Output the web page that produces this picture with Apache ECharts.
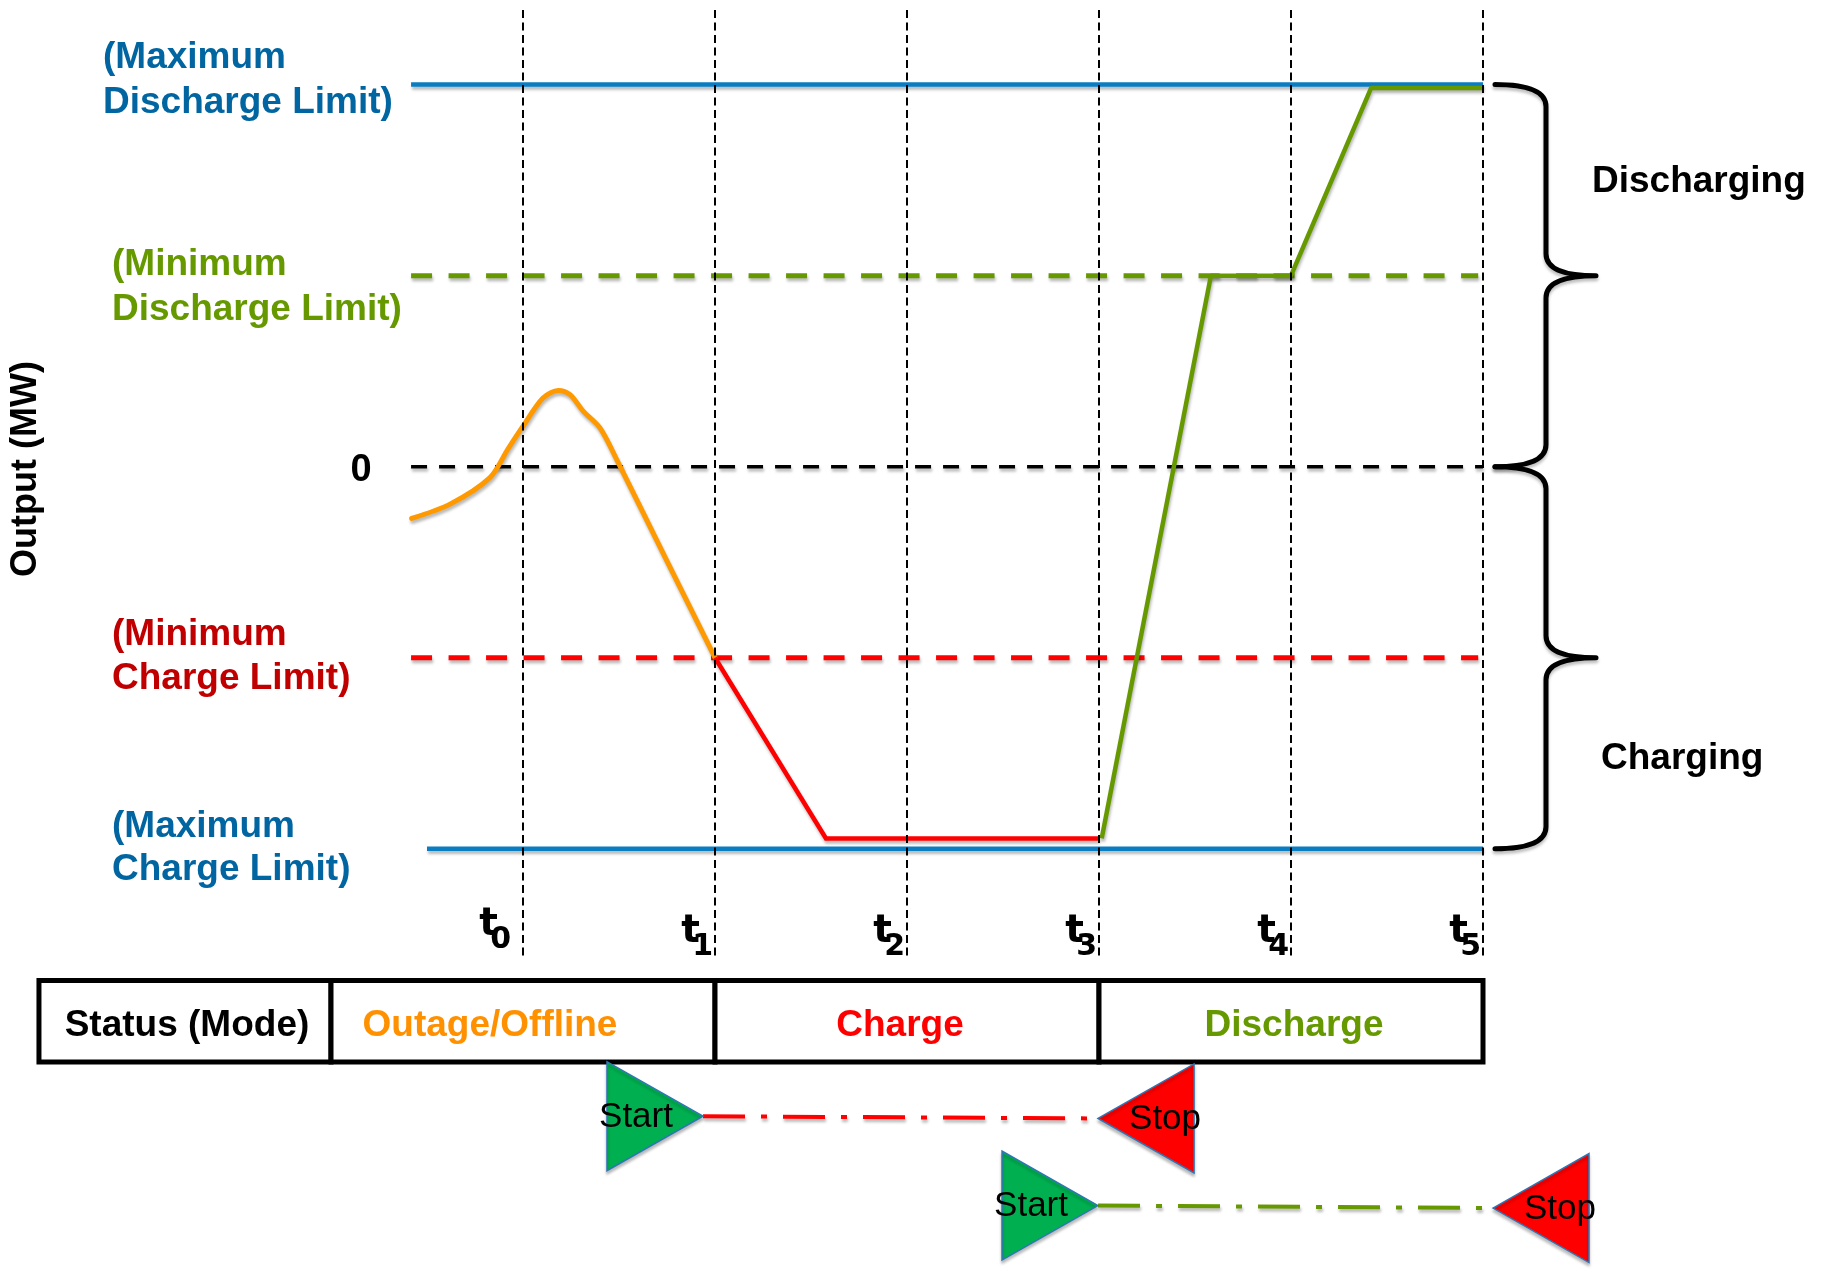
<!DOCTYPE html>
<html><head><meta charset="utf-8">
<script src="https://cdn.jsdelivr.net/npm/echarts@6/dist/echarts.min.js"></script>
<style>html,body{margin:0;padding:0;background:#fff}#c{width:1825px;height:1269px}</style>
</head><body><div id="c"></div>
<script>
// ---------------- data ----------------
const levelValues = [2, 1, 0, -1, -2];
const levelStart = [0.417, 0.417, 0.417, 0.417, 0.5];
const levelEnd = [6.0, 5.975, 6.0, 5.975, 6.0];
const levelLabels = [
  ['(Maximum', 'Discharge Limit)'],
  ['(Minimum', 'Discharge Limit)'],
  ['0'],
  ['(Minimum', 'Charge Limit)'],
  ['(Maximum', 'Charge Limit)']
];
const tickTimes = [1, 2, 3, 4, 5, 6];
const tickSubs = ['0', '1', '2', '3', '4', '5'];
const tickTop = 2.39, tickBottom = -2.573;

const outageX = [0.42, 0.62, 0.828, 0.92, 1.0, 1.104, 1.184, 1.245, 1.3125, 1.401, 1.496, 1.75, 2.0];
const outageY = [-0.271, -0.196, -0.057, 0.09, 0.212, 0.359, 0.399, 0.377, 0.292, 0.203, 0.021, -0.494, -1.0];
const chargeX = [2.0, 2.578, 4.0];
const chargeY = [-1.0, -1.946, -1.946];
const dischargeX = [4.014, 4.583, 5.0, 5.417, 6.0];
const dischargeY = [-1.946, 1.0, 1.0, 1.982, 1.982];

const modeNames = ['Status (Mode)', 'Outage/Offline', 'Charge', 'Discharge'];
const modeEdges = [-1.521, 0, 2, 4, 6];

// command rows: [tip x, y]
const chargeCmd = [[1.9375, -3.40], [3.995, -3.412]];
const dischargeCmd = [[3.995, -3.868], [6.052, -3.881]];

const braceRanges = [[0, 2], [-2, 0]];
const braceLabels = ['Discharging', 'Charging'];

// ---------------- styles ----------------
const FONT = '"Liberation Sans", Arial, sans-serif';
const TFONT = '"DejaVu Sans", "Liberation Sans", sans-serif';
const BLUE = '#0A7CC1', BLUE_T = '#0065A0', GREEN = '#669900', RED = '#FF0000', DRED = '#C00000', ORANGE = '#FF9900';
const shadow = {shadowColor: 'rgba(0,0,0,0.28)', shadowBlur: 3, shadowOffsetX: 1, shadowOffsetY: 3};
const levelStyles = [
  {color: BLUE, width: 4.5, type: 'solid'},
  {color: GREEN, width: 5, type: [21, 16.5]},
  {color: '#000', width: 3.5, type: [16, 12]},
  {color: RED, width: 5, type: [21, 16.5]},
  {color: BLUE, width: 4.5, type: 'solid'}
];
const labelColors = [BLUE_T, GREEN, '#000', DRED, BLUE_T];
const labelPos = [[103, 58, 103], [112, 265, 310], [361, 471], [112, 635, 679], [112, 827, 870]];
const modeColors = ['#000', '#FF9000', '#FF0000', GREEN];
const modeShift = [2, -33, -7, 3];
const tickNudge = [[-10, -7], [0, 0], [0, 0], [0, 0], [0, 0], [0, 0]];

const zip = (xs, ys) => xs.map((x, i) => [x, ys[i]]);

const series = [];
levelValues.forEach((v, i) => {
  series.push({
    type: 'line', silent: true, symbol: 'none', z: 2, animation: false,
    data: [[levelStart[i], v], [levelEnd[i], v]],
    lineStyle: Object.assign({}, levelStyles[i], shadow)
  });
});
series.push({type: 'line', silent: true, symbol: 'none', z: 3, smooth: 0.3,
  data: zip(outageX, outageY), lineStyle: Object.assign({color: ORANGE, width: 5, cap: 'round'}, shadow)});
series.push({type: 'line', silent: true, symbol: 'none', z: 3,
  data: zip(chargeX, chargeY), lineStyle: Object.assign({color: RED, width: 4.5, join: 'miter'}, shadow)});
series.push({type: 'line', silent: true, symbol: 'none', z: 3,
  data: zip(dischargeX, dischargeY), lineStyle: Object.assign({color: GREEN, width: 4.5}, shadow)});
tickTimes.forEach(t => {
  series.push({type: 'line', silent: true, symbol: 'none', z: 6,
    data: [[t, tickTop], [t, tickBottom]], lineStyle: {color: '#000', width: 2, type: [8, 4.5]}});
});
// tick labels t_k
series.push({
  type: 'custom', coordinateSystem: 'cartesian2d', clip: false, silent: true, z: 7,
  data: tickTimes.map((t, i) => [t, 0, i]),
  renderItem(params, api) {
    const p = api.coord([api.value(0), api.value(1)]);
    const i = api.value(2);
    const n = tickNudge[i];
    return {type: 'group', children: [
      {type: 'text', style: {text: 't', x: p[0] - 15 + n[0], y: 932 + n[1], align: 'right', verticalAlign: 'middle', font: 'bold 39px ' + TFONT, fill: '#000'}},
      {type: 'text', style: {text: tickSubs[i], x: p[0] - 2 + n[0], y: 947 + n[1], align: 'right', verticalAlign: 'middle', font: 'bold 30px ' + TFONT, fill: '#000'}}
    ]};
  }
});
// status table
const boxTop = -2.69, boxBot = -3.117;
series.push({
  type: 'custom', coordinateSystem: 'cartesian2d', clip: false, silent: true, z: 5,
  data: modeNames.map((n, i) => [modeEdges[i], modeEdges[i + 1], i]),
  renderItem(params, api) {
    const i = api.value(2);
    const p1 = api.coord([api.value(0), boxTop]);
    const p2 = api.coord([api.value(1), boxBot]);
    return {type: 'group', children: [
      {type: 'rect', shape: {x: p1[0], y: p1[1], width: p2[0] - p1[0], height: p2[1] - p1[1]},
        style: {fill: '#fff', stroke: '#000', lineWidth: 5}},
      {type: 'text', style: {text: modeNames[i], x: (p1[0] + p2[0]) / 2 + modeShift[i], y: (p1[1] + p2[1]) / 2 + 4,
        align: 'center', verticalAlign: 'middle', font: 'bold 37px ' + FONT, fill: modeColors[i]}}
    ]};
  }
});
// command dash-dot lines
series.push({type: 'line', silent: true, symbol: 'none', z: 4, data: chargeCmd,
  lineStyle: Object.assign({color: RED, width: 4, type: [42, 16, 6, 16]}, shadow)});
series.push({type: 'line', silent: true, symbol: 'none', z: 4, data: dischargeCmd,
  lineStyle: Object.assign({color: GREEN, width: 4, type: [42, 16, 6, 16]}, shadow)});
// start/stop triangles
series.push({
  type: 'custom', coordinateSystem: 'cartesian2d', clip: false, silent: true, z: 8,
  data: [[chargeCmd[0][0], chargeCmd[0][1], 1], [chargeCmd[1][0], chargeCmd[1][1], -1],
         [dischargeCmd[0][0], dischargeCmd[0][1], 1], [dischargeCmd[1][0], dischargeCmd[1][1], -1]],
  renderItem(params, api) {
    const p = api.coord([api.value(0), api.value(1)]);
    const d = api.value(2);
    const W = 96, H = 109;
    return {type: 'group', children: [
      {type: 'polygon', shape: {points: [[p[0], p[1]], [p[0] - d * W, p[1] - H / 2], [p[0] - d * W, p[1] + H / 2]]},
        style: {fill: d > 0 ? '#00B050' : '#FF0000', stroke: '#2E75B6', lineWidth: 1.5,
          shadowColor: 'rgba(0,0,0,0.25)', shadowBlur: 3, shadowOffsetY: 3}},
      {type: 'text', z2: 10, style: {text: d > 0 ? 'Start' : 'Stop', x: p[0] - d * 67, y: p[1] + 1,
        align: 'center', verticalAlign: 'middle', font: '35px ' + FONT, fill: '#000'}}
    ]};
  }
});
// braces
series.push({
  type: 'custom', coordinateSystem: 'cartesian2d', clip: false, silent: true, z: 5,
  data: braceRanges.map(r => [tickTimes[tickTimes.length - 1], r[1], r[0]]),
  renderItem(params, api) {
    const a = api.coord([api.value(0), api.value(1)]);
    const b = api.coord([api.value(0), api.value(2)]);
    const xe = a[0] + 12, xs = a[0] + 63, xt = a[0] + 113;
    const y1 = a[1], y2 = b[1], ym = (y1 + y2) / 2, r = 22;
    const d = `M${xe},${y1} Q${xs},${y1} ${xs},${y1 + r} L${xs},${ym - r} Q${xs},${ym} ${xt},${ym} ` +
              `Q${xs},${ym} ${xs},${ym + r} L${xs},${y2 - r} Q${xs},${y2} ${xe},${y2}`;
    return {type: 'path', shape: {pathData: d},
      style: {fill: 'none', stroke: '#000', lineWidth: 5, lineJoin: 'round', lineCap: 'round',
        shadowColor: 'rgba(0,0,0,0.25)', shadowBlur: 3, shadowOffsetY: 3}};
  }
});

// ---------------- text graphics ----------------
const graphic = [];
levelLabels.forEach((lines, i) => {
  const pos = labelPos[i];
  if (lines.length === 1) {
    graphic.push({type: 'text', style: {text: lines[0], x: pos[0], y: pos[1], align: 'center', verticalAlign: 'middle',
      font: 'bold 38px ' + FONT, fill: labelColors[i]}});
  } else {
    lines.forEach((ln, j) => graphic.push({type: 'text', style: {text: ln, x: pos[0], y: pos[1 + j], align: 'left',
      verticalAlign: 'middle', font: 'bold 37px ' + FONT, fill: labelColors[i]}}));
  }
});
graphic.push({type: 'text', x: 26, y: 469, rotation: Math.PI / 2,
  style: {text: 'Output (MW)', x: 0, y: 0, align: 'center', verticalAlign: 'middle', font: 'bold 36px ' + FONT, fill: '#000'}});
graphic.push({type: 'text', style: {text: braceLabels[0], x: 1592, y: 182, align: 'left', verticalAlign: 'middle', font: 'bold 37px ' + FONT, fill: '#000'}});
graphic.push({type: 'text', style: {text: braceLabels[1], x: 1601, y: 759, align: 'left', verticalAlign: 'middle', font: 'bold 37px ' + FONT, fill: '#000'}});

const chart = echarts.init(document.getElementById('c'), null, {renderer: 'canvas'});
chart.setOption({
  animation: false,
  backgroundColor: '#fff',
  grid: {left: 331, top: 8.2, width: 1344, height: 1267.2, containLabel: false},
  xAxis: {type: 'value', min: 0, max: 7, show: false},
  yAxis: {type: 'value', min: -4.2, max: 2.4, show: false},
  series: series,
  graphic: graphic
});
</script></body></html>
